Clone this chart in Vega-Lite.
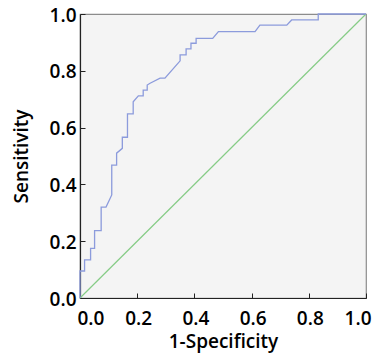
{
  "$schema": "https://vega.github.io/schema/vega-lite/v6.json",
  "width": 286,
  "height": 284,
  "autosize": "none",
  "padding": {"left": 80, "top": 14, "right": 6, "bottom": 55},
  "background": "white",
  "config": {
    "view": {"fill": "#f4f4f4", "stroke": "#8c8c8c", "strokeWidth": 1.2},
    "axis": {
      "grid": false,
      "domainColor": "#222222",
      "domainWidth": 1.2,
      "tickColor": "#222222",
      "tickSize": -5,
      "labelFont": "Open Sans",
      "labelFontSize": 19,
      "labelColor": "black",
      "labelFontWeight": 600,
      "titleFont": "Open Sans",
      "titleFontSize": 19,
      "titleFontWeight": 600,
      "titleColor": "black"
    }
  },
  "datasets": {
    "roc": [
      {"o": 0, "fpr": 0.0, "tpr": 0.0},
      {"o": 1, "fpr": 0.0, "tpr": 0.095},
      {"o": 2, "fpr": 0.016, "tpr": 0.095},
      {"o": 3, "fpr": 0.016, "tpr": 0.134},
      {"o": 4, "fpr": 0.037, "tpr": 0.134},
      {"o": 5, "fpr": 0.037, "tpr": 0.175},
      {"o": 6, "fpr": 0.051, "tpr": 0.175},
      {"o": 7, "fpr": 0.051, "tpr": 0.237},
      {"o": 8, "fpr": 0.074, "tpr": 0.237},
      {"o": 9, "fpr": 0.074, "tpr": 0.32},
      {"o": 10, "fpr": 0.091, "tpr": 0.32},
      {"o": 11, "fpr": 0.111, "tpr": 0.363},
      {"o": 12, "fpr": 0.111, "tpr": 0.468},
      {"o": 13, "fpr": 0.128, "tpr": 0.468},
      {"o": 14, "fpr": 0.128, "tpr": 0.51},
      {"o": 15, "fpr": 0.148, "tpr": 0.527},
      {"o": 16, "fpr": 0.148, "tpr": 0.566},
      {"o": 17, "fpr": 0.166, "tpr": 0.566},
      {"o": 18, "fpr": 0.166, "tpr": 0.648},
      {"o": 19, "fpr": 0.186, "tpr": 0.648},
      {"o": 20, "fpr": 0.186, "tpr": 0.691},
      {"o": 21, "fpr": 0.204, "tpr": 0.712},
      {"o": 22, "fpr": 0.221, "tpr": 0.712},
      {"o": 23, "fpr": 0.221, "tpr": 0.732},
      {"o": 24, "fpr": 0.235, "tpr": 0.732},
      {"o": 25, "fpr": 0.235, "tpr": 0.75},
      {"o": 26, "fpr": 0.245, "tpr": 0.756},
      {"o": 27, "fpr": 0.28, "tpr": 0.774},
      {"o": 28, "fpr": 0.297, "tpr": 0.774},
      {"o": 29, "fpr": 0.35, "tpr": 0.835},
      {"o": 30, "fpr": 0.35, "tpr": 0.856},
      {"o": 31, "fpr": 0.371, "tpr": 0.856},
      {"o": 32, "fpr": 0.371, "tpr": 0.877},
      {"o": 33, "fpr": 0.388, "tpr": 0.877},
      {"o": 34, "fpr": 0.388, "tpr": 0.897},
      {"o": 35, "fpr": 0.406, "tpr": 0.897},
      {"o": 36, "fpr": 0.406, "tpr": 0.914},
      {"o": 37, "fpr": 0.464, "tpr": 0.914},
      {"o": 38, "fpr": 0.484, "tpr": 0.938},
      {"o": 39, "fpr": 0.612, "tpr": 0.938},
      {"o": 40, "fpr": 0.629, "tpr": 0.961},
      {"o": 41, "fpr": 0.723, "tpr": 0.961},
      {"o": 42, "fpr": 0.74, "tpr": 0.979},
      {"o": 43, "fpr": 0.833, "tpr": 0.979},
      {"o": 44, "fpr": 0.833, "tpr": 1.0},
      {"o": 45, "fpr": 1.0, "tpr": 1.0}
    ],
    "ref": [
      {"o": 0, "fpr": 0.0, "tpr": 0.0},
      {"o": 1, "fpr": 1.0, "tpr": 1.0}
    ]
  },
  "layer": [
    {
      "data": {"name": "ref"},
      "mark": {"type": "line", "color": "#86cc86", "strokeWidth": 1.2},
      "encoding": {
        "x": {"field": "fpr", "type": "quantitative", "scale": {"domain": [0, 1], "nice": false}, "axis": {"title": "1-Specificity", "values": [0, 0.2, 0.4, 0.6, 0.8, 1.0], "format": ".1f", "labelPadding": 16, "labelOffset": 1, "labelFlushOffset": 4, "titlePadding": 4}},
        "y": {"field": "tpr", "type": "quantitative", "scale": {"domain": [0, 1], "nice": false}, "axis": {"title": "Sensitivity", "values": [0, 0.2, 0.4, 0.6, 0.8, 1.0], "format": ".1f", "labelPadding": 9, "labelOffset": 1, "titlePadding": 18}},
        "order": {"field": "o", "type": "quantitative"}
      }
    },
    {
      "data": {"name": "roc"},
      "mark": {"type": "line", "color": "#8c9bdc", "strokeWidth": 1.3},
      "encoding": {
        "x": {"field": "fpr", "type": "quantitative"},
        "y": {"field": "tpr", "type": "quantitative"},
        "order": {"field": "o", "type": "quantitative"}
      }
    }
  ]
}
